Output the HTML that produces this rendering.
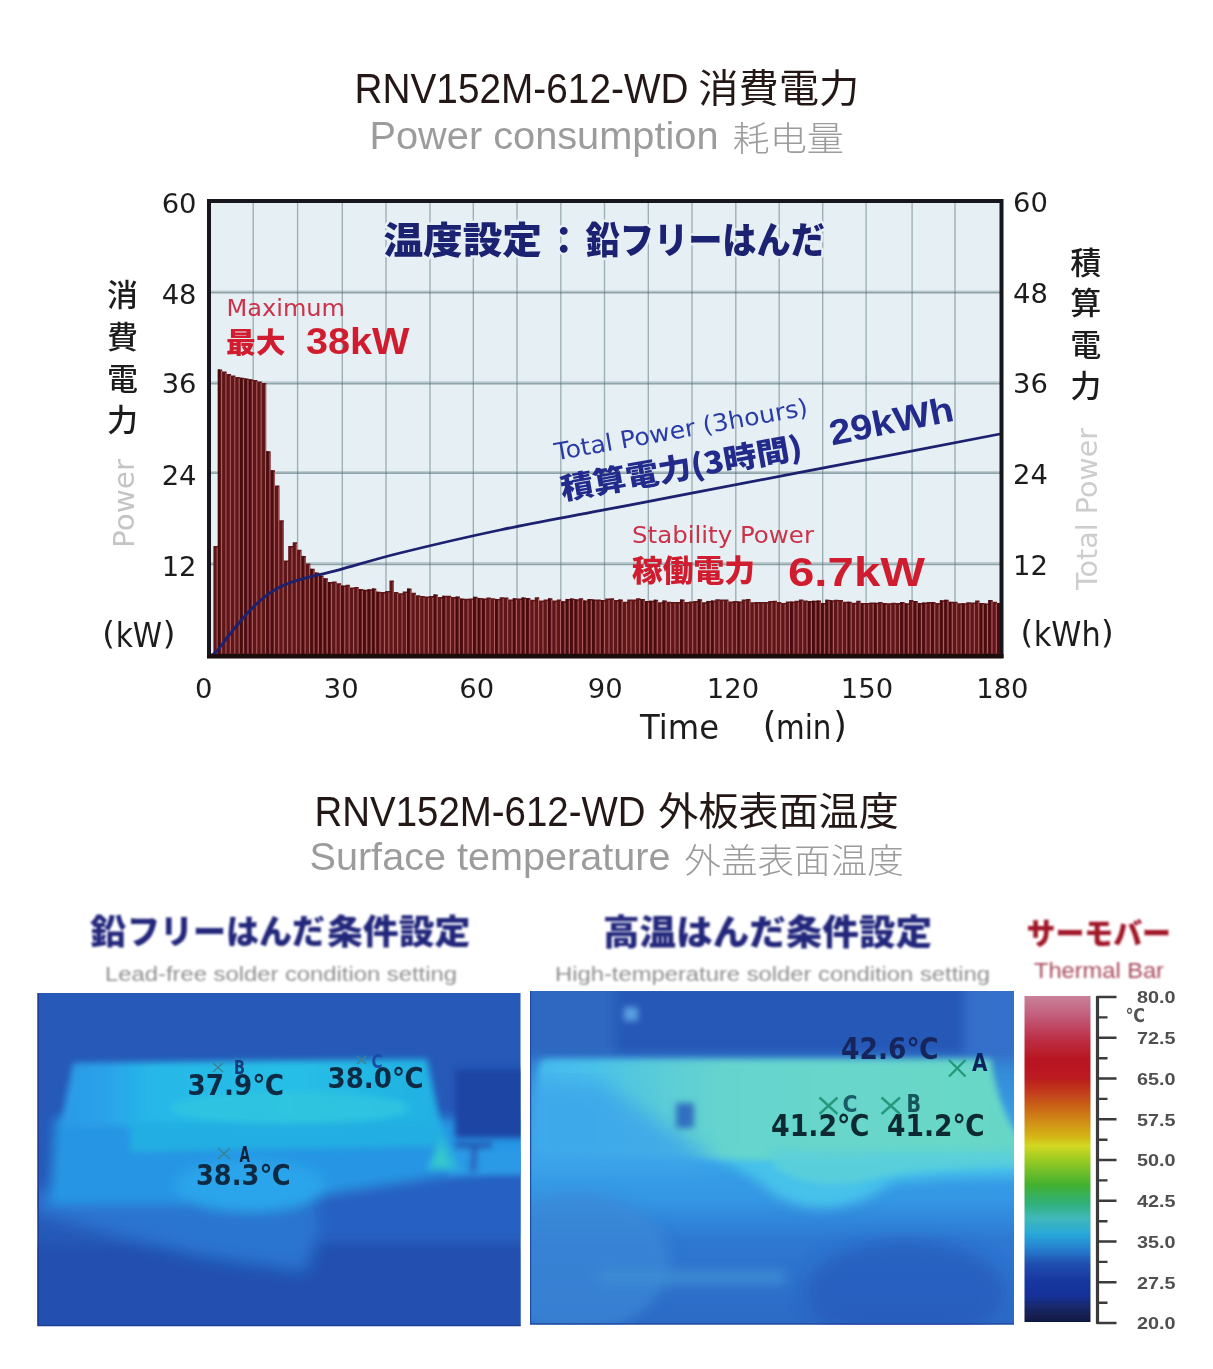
<!DOCTYPE html>
<html lang="ja"><head><meta charset="utf-8"><title>RNV152M-612-WD</title>
<style>html,body{margin:0;padding:0;background:#fff}body{width:1213px;height:1369px;overflow:hidden}svg{display:block}text{white-space:pre}</style></head><body>
<svg width="1213" height="1369" viewBox="0 0 1213 1369">
<defs>
<filter id="b05" x="-5%" y="-5%" width="110%" height="110%"><feGaussianBlur stdDeviation="0.5"/></filter>
<filter id="b07" x="-5%" y="-20%" width="110%" height="140%"><feGaussianBlur stdDeviation="0.7"/></filter>
<filter id="b1" x="-5%" y="-20%" width="110%" height="140%"><feGaussianBlur stdDeviation="1"/></filter>
<filter id="b3"><feGaussianBlur stdDeviation="3"/></filter>
<filter id="b6"><feGaussianBlur stdDeviation="6"/></filter>
<filter id="b10"><feGaussianBlur stdDeviation="10"/></filter>
<linearGradient id="cbar" x1="0" y1="0" x2="0" y2="1">
<stop offset="0" stop-color="#c88098"/><stop offset="0.05" stop-color="#c46482"/><stop offset="0.13" stop-color="#bd3048"/>
<stop offset="0.19" stop-color="#b81822"/><stop offset="0.25" stop-color="#ba1a20"/><stop offset="0.30" stop-color="#c4401c"/>
<stop offset="0.38" stop-color="#d08812"/><stop offset="0.43" stop-color="#d4b414"/><stop offset="0.46" stop-color="#d2d822"/>
<stop offset="0.51" stop-color="#92c824"/><stop offset="0.58" stop-color="#42b030"/><stop offset="0.635" stop-color="#30b078"/>
<stop offset="0.68" stop-color="#40b8b8"/><stop offset="0.73" stop-color="#28a8d8"/><stop offset="0.775" stop-color="#2880d0"/>
<stop offset="0.82" stop-color="#2050b0"/><stop offset="0.87" stop-color="#1838a0"/><stop offset="0.92" stop-color="#183098"/>
<stop offset="0.955" stop-color="#1a2868"/><stop offset="1" stop-color="#101840"/>
</linearGradient>
<linearGradient id="plat" x1="0" y1="0" x2="1" y2="0"><stop offset="0" stop-color="#44b8ee"/><stop offset="0.1" stop-color="#48c0ea"/><stop offset="0.25" stop-color="#5accd8"/><stop offset="0.38" stop-color="#66d4ce"/><stop offset="0.85" stop-color="#68d8c8"/><stop offset="1" stop-color="#66d6c6"/></linearGradient>
<linearGradient id="lplat" x1="0" y1="0" x2="1" y2="0"><stop offset="0" stop-color="#2a9ae6"/><stop offset="0.12" stop-color="#2aa2ea"/><stop offset="0.24" stop-color="#26b8e8"/><stop offset="0.6" stop-color="#28bee6"/><stop offset="1" stop-color="#20b0e2"/></linearGradient>
<linearGradient id="rbg" gradientUnits="userSpaceOnUse" x1="0" y1="985" x2="0" y2="1335"><stop offset="0" stop-color="#2f68c0"/><stop offset="0.44" stop-color="#3aa6ea"/><stop offset="0.615" stop-color="#3496e4"/><stop offset="0.73" stop-color="#2e78d2"/><stop offset="1" stop-color="#2c68c4"/></linearGradient>
<clipPath id="cl"><rect x="37.5" y="993" width="483" height="333"/></clipPath>
<clipPath id="cr"><rect x="530" y="991" width="484" height="333.5"/></clipPath>
<clipPath id="cp"><rect x="209" y="201" width="792.5" height="455"/></clipPath>
</defs>
<text font-family='"Liberation Sans", "Noto Sans CJK JP", sans-serif' fill="#231815" font-weight="400" ><tspan x="354.5" y="103.0" font-size="42.0" textLength="334.0" lengthAdjust="spacingAndGlyphs">RNV152M-612-WD</tspan><tspan x="690.0" y="103.0" font-size="20.0"> </tspan><tspan x="698.3" y="102.0" font-size="39.0" font-family='"Noto Sans CJK JP", sans-serif' textLength="161.0" lengthAdjust="spacingAndGlyphs">消費電力</tspan></text>
<text font-family='"Liberation Sans", "Noto Sans CJK SC", sans-serif' fill="#9c9c9c" font-weight="400" ><tspan x="369.5" y="148.5" font-size="38.8" textLength="349.0" lengthAdjust="spacingAndGlyphs">Power consumption</tspan><tspan x="722.0" y="148.5" font-size="20.0"> </tspan><tspan x="732.5" y="151.0" font-size="34.5" font-family='"Noto Sans CJK SC", sans-serif' font-weight="300" textLength="111.5" lengthAdjust="spacingAndGlyphs">耗电量</tspan></text>
<text font-family='"Liberation Sans", "Noto Sans CJK JP", sans-serif' fill="#231815" font-weight="400" ><tspan x="314.5" y="826.0" font-size="42.0" textLength="331.0" lengthAdjust="spacingAndGlyphs">RNV152M-612-WD</tspan><tspan x="650.0" y="826.0" font-size="20.0"> </tspan><tspan x="658.3" y="825.0" font-size="39.0" font-family='"Noto Sans CJK JP", sans-serif' textLength="240.5" lengthAdjust="spacingAndGlyphs">外板表面温度</tspan></text>
<text font-family='"Liberation Sans", "Noto Sans CJK SC", sans-serif' fill="#9c9c9c" font-weight="400" ><tspan x="309.5" y="870.0" font-size="38.8" textLength="361.0" lengthAdjust="spacingAndGlyphs">Surface temperature</tspan><tspan x="674.0" y="870.0" font-size="20.0"> </tspan><tspan x="684.3" y="872.5" font-size="34.5" font-family='"Noto Sans CJK SC", sans-serif' font-weight="300" textLength="219.5" lengthAdjust="spacingAndGlyphs">外盖表面温度</tspan></text>
<g filter="url(#b05)">
<rect x="209" y="201" width="792.5" height="455" fill="#e6f0f4"/>
<g stroke="#4a666c" stroke-width="1.4" opacity="0.46"><line x1="253.2" y1="201" x2="253.2" y2="656"/><line x1="297.6" y1="201" x2="297.6" y2="656"/><line x1="342.3" y1="201" x2="342.3" y2="656"/><line x1="386.0" y1="201" x2="386.0" y2="656"/><line x1="430.0" y1="201" x2="430.0" y2="656"/><line x1="473.3" y1="201" x2="473.3" y2="656"/><line x1="517.0" y1="201" x2="517.0" y2="656"/><line x1="560.8" y1="201" x2="560.8" y2="656"/><line x1="604.5" y1="201" x2="604.5" y2="656"/><line x1="648.3" y1="201" x2="648.3" y2="656"/><line x1="692.0" y1="201" x2="692.0" y2="656"/><line x1="735.8" y1="201" x2="735.8" y2="656"/><line x1="779.2" y1="201" x2="779.2" y2="656"/><line x1="822.7" y1="201" x2="822.7" y2="656"/><line x1="866.1" y1="201" x2="866.1" y2="656"/><line x1="912.1" y1="201" x2="912.1" y2="656"/><line x1="955.0" y1="201" x2="955.0" y2="656"/></g><g stroke="#4a666c" stroke-width="1.7" opacity="0.55"><line x1="209" y1="292.7" x2="1001.5" y2="292.7"/><line x1="209" y1="383.6" x2="1001.5" y2="383.6"/><line x1="209" y1="473.2" x2="1001.5" y2="473.2"/><line x1="209" y1="564.4" x2="1001.5" y2="564.4"/></g><g stroke="#7e979c" stroke-width="1.4" opacity="0.4"><line x1="209" y1="291.1" x2="1001.5" y2="291.1"/><line x1="209" y1="382.0" x2="1001.5" y2="382.0"/><line x1="209" y1="471.6" x2="1001.5" y2="471.6"/><line x1="209" y1="562.8" x2="1001.5" y2="562.8"/></g>
<g clip-path="url(#cp)">
<polygon points="213.4,656.0 213.4,546.0 217.8,546.0 217.8,369.4 222.2,369.4 222.2,371.6 226.6,371.6 226.6,373.9 231.0,373.9 231.0,375.4 235.4,375.4 235.4,376.9 239.8,376.9 239.8,377.7 244.2,377.7 244.2,378.4 248.6,378.4 248.6,379.2 253.0,379.2 253.0,380.0 257.4,380.0 257.4,381.5 261.8,381.5 261.8,383.0 266.2,383.0 266.2,451.2 270.6,451.2 270.6,470.2 275.0,470.2 275.0,485.4 279.4,485.4 279.4,520.3 283.8,520.3 283.8,560.5 288.2,560.5 288.2,546.0 292.7,546.0 292.7,542.2 297.1,542.2 297.1,549.8 301.5,549.8 301.5,555.9 305.9,555.9 305.9,563.5 310.3,563.5 310.3,568.8 314.7,568.8 314.7,572.6 319.1,572.6 319.1,575.6 323.5,575.6 323.5,578.3 327.9,578.3 327.9,582.0 332.3,582.0 332.3,581.5 336.7,581.5 336.7,583.3 341.1,583.3 341.1,585.5 345.5,585.5 345.5,584.8 349.9,584.8 349.9,587.5 354.3,587.5 354.3,586.9 358.7,586.9 358.7,589.1 363.1,589.1 363.1,589.8 367.5,589.8 367.5,589.2 371.9,589.2 371.9,588.4 376.3,588.4 376.3,591.7 380.7,591.7 380.7,591.9 385.1,591.9 385.1,590.9 389.5,590.9 389.5,580.4 393.9,580.4 393.9,592.1 398.3,592.1 398.3,593.2 402.7,593.2 402.7,591.5 407.1,591.5 407.1,588.6 411.5,588.6 411.5,592.7 415.9,592.7 415.9,595.2 420.3,595.2 420.3,596.1 424.7,596.1 424.7,596.5 429.1,596.5 429.1,596.1 433.5,596.1 433.5,594.4 437.9,594.4 437.9,597.1 442.3,597.1 442.3,595.8 446.8,595.8 446.8,595.8 451.2,595.8 451.2,597.0 455.6,597.0 455.6,596.6 460.0,596.6 460.0,598.6 464.4,598.6 464.4,598.8 468.8,598.8 468.8,598.4 473.2,598.4 473.2,596.8 477.6,596.8 477.6,597.9 482.0,597.9 482.0,598.5 486.4,598.5 486.4,597.6 490.8,597.6 490.8,598.2 495.2,598.2 495.2,598.9 499.6,598.9 499.6,597.2 504.0,597.2 504.0,597.6 508.4,597.6 508.4,599.5 512.8,599.5 512.8,598.3 517.2,598.3 517.2,598.6 521.6,598.6 521.6,597.4 526.0,597.4 526.0,598.0 530.4,598.0 530.4,599.8 534.8,599.8 534.8,597.2 539.2,597.2 539.2,600.6 543.6,600.6 543.6,599.5 548.0,599.5 548.0,598.3 552.4,598.3 552.4,600.6 556.8,600.6 556.8,599.4 561.2,599.4 561.2,601.2 565.6,601.2 565.6,598.9 570.0,598.9 570.0,598.5 574.4,598.5 574.4,599.3 578.8,599.3 578.8,598.2 583.2,598.2 583.2,600.4 587.6,600.4 587.6,599.0 592.0,599.0 592.0,599.4 596.4,599.4 596.4,599.5 600.8,599.5 600.8,600.1 605.2,600.1 605.2,598.6 609.7,598.6 609.7,598.3 614.1,598.3 614.1,600.1 618.5,600.1 618.5,599.4 622.9,599.4 622.9,601.8 627.3,601.8 627.3,599.4 631.7,599.4 631.7,599.6 636.1,599.6 636.1,598.3 640.5,598.3 640.5,599.0 644.9,599.0 644.9,601.1 649.3,601.1 649.3,600.7 653.7,600.7 653.7,599.7 658.1,599.7 658.1,602.2 662.5,602.2 662.5,600.5 666.9,600.5 666.9,601.7 671.3,601.7 671.3,601.9 675.7,601.9 675.7,602.1 680.1,602.1 680.1,599.5 684.5,599.5 684.5,601.9 688.9,601.9 688.9,601.5 693.3,601.5 693.3,601.0 697.7,601.0 697.7,599.2 702.1,599.2 702.1,602.2 706.5,602.2 706.5,600.9 710.9,600.9 710.9,600.5 715.3,600.5 715.3,599.3 719.7,599.3 719.7,599.5 724.1,599.5 724.1,599.4 728.5,599.4 728.5,601.6 732.9,601.6 732.9,601.1 737.3,601.1 737.3,601.4 741.7,601.4 741.7,599.4 746.1,599.4 746.1,599.1 750.5,599.1 750.5,602.2 754.9,602.2 754.9,602.1 759.3,602.1 759.3,601.9 763.8,601.9 763.8,602.0 768.2,602.0 768.2,601.0 772.6,601.0 772.6,600.7 777.0,600.7 777.0,601.9 781.4,601.9 781.4,602.9 785.8,602.9 785.8,601.4 790.2,601.4 790.2,601.6 794.6,601.6 794.6,600.8 799.0,600.8 799.0,599.4 803.4,599.4 803.4,600.4 807.8,600.4 807.8,601.1 812.2,601.1 812.2,600.7 816.6,600.7 816.6,600.5 821.0,600.5 821.0,602.9 825.4,602.9 825.4,599.7 829.8,599.7 829.8,600.2 834.2,600.2 834.2,599.8 838.6,599.8 838.6,600.1 843.0,600.1 843.0,601.7 847.4,601.7 847.4,601.7 851.8,601.7 851.8,602.8 856.2,602.8 856.2,600.8 860.6,600.8 860.6,603.0 865.0,603.0 865.0,603.0 869.4,603.0 869.4,602.5 873.8,602.5 873.8,602.7 878.2,602.7 878.2,602.0 882.6,602.0 882.6,603.1 887.0,603.1 887.0,603.3 891.4,603.3 891.4,602.8 895.8,602.8 895.8,603.0 900.2,603.0 900.2,602.0 904.6,602.0 904.6,603.3 909.0,603.3 909.0,600.1 913.4,600.1 913.4,601.1 917.8,601.1 917.8,602.9 922.2,602.9 922.2,602.5 926.7,602.5 926.7,602.1 931.1,602.1 931.1,602.1 935.5,602.1 935.5,603.0 939.9,603.0 939.9,600.3 944.3,600.3 944.3,599.8 948.7,599.8 948.7,601.8 953.1,601.8 953.1,601.7 957.5,601.7 957.5,603.2 961.9,603.2 961.9,603.2 966.3,603.2 966.3,602.3 970.7,602.3 970.7,602.6 975.1,602.6 975.1,600.5 979.5,600.5 979.5,603.0 983.9,603.0 983.9,603.5 988.3,603.5 988.3,600.0 992.7,600.0 992.7,601.7 997.1,601.7 997.1,603.1 1001.5,603.1 1001.5,656.0" fill="#5f1319"/>
<g fill="#460a0d"><rect x="217.8" y="369.4" width="2.2" height="286.6"/><rect x="239.8" y="377.7" width="2.2" height="278.3"/><rect x="244.2" y="378.4" width="2.2" height="277.6"/><rect x="248.6" y="379.2" width="2.2" height="276.8"/><rect x="266.2" y="451.2" width="2.2" height="204.8"/><rect x="270.6" y="470.2" width="2.2" height="185.8"/><rect x="301.5" y="555.9" width="2.2" height="100.1"/><rect x="310.3" y="568.8" width="2.2" height="87.2"/><rect x="314.7" y="572.6" width="2.2" height="83.4"/><rect x="319.1" y="575.6" width="2.2" height="80.4"/><rect x="323.5" y="578.3" width="2.2" height="77.7"/><rect x="327.9" y="582.0" width="2.2" height="74.0"/><rect x="341.1" y="585.5" width="2.2" height="70.5"/><rect x="358.7" y="589.1" width="2.2" height="66.9"/><rect x="363.1" y="589.8" width="2.2" height="66.2"/><rect x="367.5" y="589.2" width="2.2" height="66.8"/><rect x="371.9" y="588.4" width="2.2" height="67.6"/><rect x="376.3" y="591.7" width="2.2" height="64.3"/><rect x="407.1" y="588.6" width="2.2" height="67.4"/><rect x="433.5" y="594.4" width="2.2" height="61.6"/><rect x="442.3" y="595.8" width="2.2" height="60.2"/><rect x="455.6" y="596.6" width="2.2" height="59.4"/><rect x="460.0" y="598.6" width="2.2" height="57.4"/><rect x="473.2" y="596.8" width="2.2" height="59.2"/><rect x="477.6" y="597.9" width="2.2" height="58.1"/><rect x="482.0" y="598.5" width="2.2" height="57.5"/><rect x="495.2" y="598.9" width="2.2" height="57.1"/><rect x="512.8" y="598.3" width="2.2" height="57.7"/><rect x="521.6" y="597.4" width="2.2" height="58.6"/><rect x="526.0" y="598.0" width="2.2" height="58.0"/><rect x="548.0" y="598.3" width="2.2" height="57.7"/><rect x="561.2" y="601.2" width="2.2" height="54.8"/><rect x="565.6" y="598.9" width="2.2" height="57.1"/><rect x="570.0" y="598.5" width="2.2" height="57.5"/><rect x="574.4" y="599.3" width="2.2" height="56.7"/><rect x="583.2" y="600.4" width="2.2" height="55.6"/><rect x="587.6" y="599.0" width="2.2" height="57.0"/><rect x="592.0" y="599.4" width="2.2" height="56.6"/><rect x="600.8" y="600.1" width="2.2" height="55.9"/><rect x="618.5" y="599.4" width="2.2" height="56.6"/><rect x="640.5" y="599.0" width="2.2" height="57.0"/><rect x="644.9" y="601.1" width="2.2" height="54.9"/><rect x="649.3" y="600.7" width="2.2" height="55.3"/><rect x="653.7" y="599.7" width="2.2" height="56.3"/><rect x="662.5" y="600.5" width="2.2" height="55.5"/><rect x="680.1" y="599.5" width="2.2" height="56.5"/><rect x="697.7" y="599.2" width="2.2" height="56.8"/><rect x="706.5" y="600.9" width="2.2" height="55.1"/><rect x="710.9" y="600.5" width="2.2" height="55.5"/><rect x="737.3" y="601.4" width="2.2" height="54.6"/><rect x="790.2" y="601.6" width="2.2" height="54.4"/><rect x="807.8" y="601.1" width="2.2" height="54.9"/><rect x="812.2" y="600.7" width="2.2" height="55.3"/><rect x="816.6" y="600.5" width="2.2" height="55.5"/><rect x="821.0" y="602.9" width="2.2" height="53.1"/><rect x="825.4" y="599.7" width="2.2" height="56.3"/><rect x="829.8" y="600.2" width="2.2" height="55.8"/><rect x="847.4" y="601.7" width="2.2" height="54.3"/><rect x="860.6" y="603.0" width="2.2" height="53.0"/><rect x="873.8" y="602.7" width="2.2" height="53.3"/><rect x="882.6" y="603.1" width="2.2" height="52.9"/><rect x="900.2" y="602.0" width="2.2" height="54.0"/><rect x="904.6" y="603.3" width="2.2" height="52.7"/><rect x="913.4" y="601.1" width="2.2" height="54.9"/><rect x="917.8" y="602.9" width="2.2" height="53.1"/><rect x="922.2" y="602.5" width="2.2" height="53.5"/><rect x="931.1" y="602.1" width="2.2" height="53.9"/><rect x="939.9" y="600.3" width="2.2" height="55.7"/><rect x="944.3" y="599.8" width="2.2" height="56.2"/><rect x="948.7" y="601.8" width="2.2" height="54.2"/><rect x="961.9" y="603.2" width="2.2" height="52.8"/><rect x="979.5" y="603.0" width="2.2" height="53.0"/><rect x="983.9" y="603.5" width="2.2" height="52.5"/><rect x="988.3" y="600.0" width="2.2" height="56.0"/><rect x="997.1" y="603.1" width="2.2" height="52.9"/></g>
<g fill="#aa5c60"><rect x="216.6" y="547.5" width="1.1" height="106.0"/><rect x="221.0" y="370.9" width="1.1" height="282.6"/><rect x="225.4" y="373.1" width="1.1" height="280.4"/><rect x="229.8" y="375.4" width="1.1" height="278.1"/><rect x="234.2" y="376.9" width="1.1" height="276.6"/><rect x="238.6" y="378.4" width="1.1" height="275.1"/><rect x="243.0" y="379.2" width="1.1" height="274.3"/><rect x="247.4" y="379.9" width="1.1" height="273.6"/><rect x="251.8" y="380.7" width="1.1" height="272.8"/><rect x="256.2" y="381.5" width="1.1" height="272.0"/><rect x="260.6" y="383.0" width="1.1" height="270.5"/><rect x="265.0" y="384.5" width="1.1" height="269.0"/><rect x="269.4" y="452.8" width="1.1" height="200.8"/><rect x="273.8" y="471.7" width="1.1" height="181.8"/><rect x="278.2" y="486.9" width="1.1" height="166.6"/><rect x="282.6" y="521.8" width="1.1" height="131.7"/><rect x="287.0" y="562.0" width="1.1" height="91.5"/><rect x="291.4" y="547.5" width="1.1" height="106.0"/><rect x="295.8" y="543.8" width="1.1" height="109.8"/><rect x="300.2" y="551.3" width="1.1" height="102.2"/><rect x="304.6" y="557.4" width="1.1" height="96.1"/><rect x="309.0" y="565.0" width="1.1" height="88.5"/><rect x="313.4" y="570.3" width="1.1" height="83.2"/><rect x="317.8" y="574.1" width="1.1" height="79.4"/><rect x="322.2" y="577.1" width="1.1" height="76.4"/><rect x="326.6" y="579.8" width="1.1" height="73.7"/><rect x="331.0" y="583.5" width="1.1" height="70.0"/><rect x="335.4" y="583.0" width="1.1" height="70.5"/><rect x="339.8" y="584.8" width="1.1" height="68.7"/><rect x="344.2" y="587.0" width="1.1" height="66.5"/><rect x="348.6" y="586.3" width="1.1" height="67.2"/><rect x="353.0" y="589.0" width="1.1" height="64.5"/><rect x="357.4" y="588.4" width="1.1" height="65.1"/><rect x="361.8" y="590.6" width="1.1" height="62.9"/><rect x="366.2" y="591.3" width="1.1" height="62.2"/><rect x="370.7" y="590.7" width="1.1" height="62.8"/><rect x="375.1" y="589.9" width="1.1" height="63.6"/><rect x="379.5" y="593.2" width="1.1" height="60.3"/><rect x="383.9" y="593.4" width="1.1" height="60.1"/><rect x="388.3" y="592.4" width="1.1" height="61.1"/><rect x="392.7" y="581.9" width="1.1" height="71.6"/><rect x="397.1" y="593.6" width="1.1" height="59.9"/><rect x="401.5" y="594.7" width="1.1" height="58.8"/><rect x="405.9" y="593.0" width="1.1" height="60.5"/><rect x="410.3" y="590.1" width="1.1" height="63.4"/><rect x="414.7" y="594.2" width="1.1" height="59.3"/><rect x="419.1" y="596.7" width="1.1" height="56.8"/><rect x="423.5" y="597.6" width="1.1" height="55.9"/><rect x="427.9" y="598.0" width="1.1" height="55.5"/><rect x="432.3" y="597.6" width="1.1" height="55.9"/><rect x="436.7" y="595.9" width="1.1" height="57.6"/><rect x="441.1" y="598.6" width="1.1" height="54.9"/><rect x="445.5" y="597.3" width="1.1" height="56.2"/><rect x="449.9" y="597.3" width="1.1" height="56.2"/><rect x="454.3" y="598.5" width="1.1" height="55.0"/><rect x="458.7" y="598.1" width="1.1" height="55.4"/><rect x="463.1" y="600.1" width="1.1" height="53.4"/><rect x="467.5" y="600.3" width="1.1" height="53.2"/><rect x="471.9" y="599.9" width="1.1" height="53.6"/><rect x="476.3" y="598.3" width="1.1" height="55.2"/><rect x="480.7" y="599.4" width="1.1" height="54.1"/><rect x="485.1" y="600.0" width="1.1" height="53.5"/><rect x="489.5" y="599.1" width="1.1" height="54.4"/><rect x="493.9" y="599.7" width="1.1" height="53.8"/><rect x="498.3" y="600.4" width="1.1" height="53.1"/><rect x="502.7" y="598.7" width="1.1" height="54.8"/><rect x="507.1" y="599.1" width="1.1" height="54.4"/><rect x="511.5" y="601.0" width="1.1" height="52.5"/><rect x="515.9" y="599.8" width="1.1" height="53.7"/><rect x="520.3" y="600.1" width="1.1" height="53.4"/><rect x="524.8" y="598.9" width="1.1" height="54.6"/><rect x="529.2" y="599.5" width="1.1" height="54.0"/><rect x="533.6" y="601.3" width="1.1" height="52.2"/><rect x="538.0" y="598.7" width="1.1" height="54.8"/><rect x="542.4" y="602.1" width="1.1" height="51.4"/><rect x="546.8" y="601.0" width="1.1" height="52.5"/><rect x="551.2" y="599.8" width="1.1" height="53.7"/><rect x="555.6" y="602.1" width="1.1" height="51.4"/><rect x="560.0" y="600.9" width="1.1" height="52.6"/><rect x="564.4" y="602.7" width="1.1" height="50.8"/><rect x="568.8" y="600.4" width="1.1" height="53.1"/><rect x="573.2" y="600.0" width="1.1" height="53.5"/><rect x="577.6" y="600.8" width="1.1" height="52.7"/><rect x="582.0" y="599.7" width="1.1" height="53.8"/><rect x="586.4" y="601.9" width="1.1" height="51.6"/><rect x="590.8" y="600.5" width="1.1" height="53.0"/><rect x="595.2" y="600.9" width="1.1" height="52.6"/><rect x="599.6" y="601.0" width="1.1" height="52.5"/><rect x="604.0" y="601.6" width="1.1" height="51.9"/><rect x="608.4" y="600.1" width="1.1" height="53.4"/><rect x="612.8" y="599.8" width="1.1" height="53.7"/><rect x="617.2" y="601.6" width="1.1" height="51.9"/><rect x="621.6" y="600.9" width="1.1" height="52.6"/><rect x="626.0" y="603.3" width="1.1" height="50.2"/><rect x="630.4" y="600.9" width="1.1" height="52.6"/><rect x="634.8" y="601.1" width="1.1" height="52.4"/><rect x="639.2" y="599.8" width="1.1" height="53.7"/><rect x="643.6" y="600.5" width="1.1" height="53.0"/><rect x="648.0" y="602.6" width="1.1" height="50.9"/><rect x="652.4" y="602.2" width="1.1" height="51.3"/><rect x="656.8" y="601.2" width="1.1" height="52.3"/><rect x="661.2" y="603.7" width="1.1" height="49.8"/><rect x="665.6" y="602.0" width="1.1" height="51.5"/><rect x="670.0" y="603.2" width="1.1" height="50.3"/><rect x="674.4" y="603.4" width="1.1" height="50.1"/><rect x="678.8" y="603.6" width="1.1" height="49.9"/><rect x="683.2" y="601.0" width="1.1" height="52.5"/><rect x="687.7" y="603.4" width="1.1" height="50.1"/><rect x="692.1" y="603.0" width="1.1" height="50.5"/><rect x="696.5" y="602.5" width="1.1" height="51.0"/><rect x="700.9" y="600.7" width="1.1" height="52.8"/><rect x="705.3" y="603.7" width="1.1" height="49.8"/><rect x="709.7" y="602.4" width="1.1" height="51.1"/><rect x="714.1" y="602.0" width="1.1" height="51.5"/><rect x="718.5" y="600.8" width="1.1" height="52.7"/><rect x="722.9" y="601.0" width="1.1" height="52.5"/><rect x="727.3" y="600.9" width="1.1" height="52.6"/><rect x="731.7" y="603.1" width="1.1" height="50.4"/><rect x="736.1" y="602.6" width="1.1" height="50.9"/><rect x="740.5" y="602.9" width="1.1" height="50.6"/><rect x="744.9" y="600.9" width="1.1" height="52.6"/><rect x="749.3" y="600.6" width="1.1" height="52.9"/><rect x="753.7" y="603.7" width="1.1" height="49.8"/><rect x="758.1" y="603.6" width="1.1" height="49.9"/><rect x="762.5" y="603.4" width="1.1" height="50.1"/><rect x="766.9" y="603.5" width="1.1" height="50.0"/><rect x="771.3" y="602.5" width="1.1" height="51.0"/><rect x="775.7" y="602.2" width="1.1" height="51.3"/><rect x="780.1" y="603.4" width="1.1" height="50.1"/><rect x="784.5" y="604.4" width="1.1" height="49.1"/><rect x="788.9" y="602.9" width="1.1" height="50.6"/><rect x="793.3" y="603.1" width="1.1" height="50.4"/><rect x="797.7" y="602.3" width="1.1" height="51.2"/><rect x="802.1" y="600.9" width="1.1" height="52.6"/><rect x="806.5" y="601.9" width="1.1" height="51.6"/><rect x="810.9" y="602.6" width="1.1" height="50.9"/><rect x="815.3" y="602.2" width="1.1" height="51.3"/><rect x="819.7" y="602.0" width="1.1" height="51.5"/><rect x="824.1" y="604.4" width="1.1" height="49.1"/><rect x="828.5" y="601.2" width="1.1" height="52.3"/><rect x="832.9" y="601.7" width="1.1" height="51.8"/><rect x="837.3" y="601.3" width="1.1" height="52.2"/><rect x="841.8" y="601.6" width="1.1" height="51.9"/><rect x="846.2" y="603.2" width="1.1" height="50.3"/><rect x="850.6" y="603.2" width="1.1" height="50.3"/><rect x="855.0" y="604.3" width="1.1" height="49.2"/><rect x="859.4" y="602.3" width="1.1" height="51.2"/><rect x="863.8" y="604.5" width="1.1" height="49.0"/><rect x="868.2" y="604.5" width="1.1" height="49.0"/><rect x="872.6" y="604.0" width="1.1" height="49.5"/><rect x="877.0" y="604.2" width="1.1" height="49.3"/><rect x="881.4" y="603.5" width="1.1" height="50.0"/><rect x="885.8" y="604.6" width="1.1" height="48.9"/><rect x="890.2" y="604.8" width="1.1" height="48.7"/><rect x="894.6" y="604.3" width="1.1" height="49.2"/><rect x="899.0" y="604.5" width="1.1" height="49.0"/><rect x="903.4" y="603.5" width="1.1" height="50.0"/><rect x="907.8" y="604.8" width="1.1" height="48.7"/><rect x="912.2" y="601.6" width="1.1" height="51.9"/><rect x="916.6" y="602.6" width="1.1" height="50.9"/><rect x="921.0" y="604.4" width="1.1" height="49.1"/><rect x="925.4" y="604.0" width="1.1" height="49.5"/><rect x="929.8" y="603.6" width="1.1" height="49.9"/><rect x="934.2" y="603.6" width="1.1" height="49.9"/><rect x="938.6" y="604.5" width="1.1" height="49.0"/><rect x="943.0" y="601.8" width="1.1" height="51.7"/><rect x="947.4" y="601.3" width="1.1" height="52.2"/><rect x="951.8" y="603.3" width="1.1" height="50.2"/><rect x="956.2" y="603.2" width="1.1" height="50.3"/><rect x="960.6" y="604.7" width="1.1" height="48.8"/><rect x="965.0" y="604.7" width="1.1" height="48.8"/><rect x="969.4" y="603.8" width="1.1" height="49.7"/><rect x="973.8" y="604.1" width="1.1" height="49.4"/><rect x="978.2" y="602.0" width="1.1" height="51.5"/><rect x="982.6" y="604.5" width="1.1" height="49.0"/><rect x="987.0" y="605.0" width="1.1" height="48.5"/><rect x="991.4" y="601.5" width="1.1" height="52.0"/><rect x="995.8" y="603.2" width="1.1" height="50.3"/><rect x="1000.2" y="604.6" width="1.1" height="48.9"/></g>
<path d="M209.0,656.0 C210.2,655.3 212.5,655.7 216.0,652.0 C219.5,648.3 224.9,640.3 230.0,634.0 C235.1,627.7 241.4,619.8 246.7,614.0 C252.0,608.2 256.9,603.2 262.0,599.0 C267.1,594.8 272.0,591.3 277.0,588.5 C282.0,585.7 286.9,583.8 292.0,582.0 C297.1,580.2 299.5,579.6 307.5,577.5 C315.5,575.4 324.6,573.7 340.0,569.6 C355.4,565.5 373.3,559.6 400.0,553.0 C426.7,546.4 466.7,537.0 500.0,530.0 C533.3,523.0 570.0,516.5 600.0,510.7 C630.0,504.9 646.7,501.8 680.0,495.4 C713.3,489.0 746.7,482.6 800.0,472.4 C853.3,462.2 966.7,440.4 1000.0,434.0" fill="none" stroke="#1c2070" stroke-width="2.8" stroke-linejoin="round"/>
</g>
<rect x="209" y="201" width="792.5" height="455" fill="none" stroke="#15151a" stroke-width="4"/>
<rect x="207" y="654" width="796.5" height="4.5" fill="#1c0808"/>
<text font-family='"Noto Sans CJK JP", sans-serif' fill="#1f2172" font-weight="900" stroke="#e6f0f4" stroke-width="5" stroke-linejoin="round" paint-order="stroke"><tspan x="383.5" y="254.0" font-size="37.0" textLength="158.5" lengthAdjust="spacingAndGlyphs">温度設定</tspan><tspan x="563.7" y="254.0" font-size="37.0" text-anchor="middle">：</tspan><tspan x="585.5" y="254.0" font-size="37.0" textLength="239.5" lengthAdjust="spacingAndGlyphs">鉛フリーはんだ</tspan></text>
<text x="226.5" y="316.0" font-size="23.5" font-family='"DejaVu Sans", "Noto Sans CJK JP", sans-serif' fill="#cc3048" font-weight="400" text-anchor="start" textLength="118.5" lengthAdjust="spacingAndGlyphs" >Maximum</text>
<text font-family='"Liberation Sans", "Noto Sans CJK JP", sans-serif' fill="#d01f2e" font-weight="700" ><tspan x="226.0" y="353.0" font-size="28.5" font-family='"Noto Sans CJK JP", sans-serif' font-weight="900" textLength="59.5" lengthAdjust="spacingAndGlyphs">最大</tspan><tspan x="292.0" y="353.0" font-size="20.0"> </tspan><tspan x="306.0" y="353.5" font-size="37.0" textLength="103.5" lengthAdjust="spacingAndGlyphs">38kW</tspan></text>
<g transform="rotate(-10.2 556 460.5)">
<text x="556.0" y="460.5" font-size="24.0" font-family='"DejaVu Sans", "Noto Sans CJK JP", sans-serif' fill="#2a3aa8" font-weight="400" text-anchor="start" textLength="257.0" lengthAdjust="spacingAndGlyphs" >Total Power (3hours)</text>
</g>
<g transform="rotate(-10 562.5 500)">
<text x="562.5" y="500.0" font-size="30.0" font-family='"Noto Sans CJK JP", sans-serif' fill="#222c8c" font-weight="900" text-anchor="start" textLength="245.0" lengthAdjust="spacingAndGlyphs" >積算電力(3時間)</text>
</g>
<g transform="rotate(-11.5 832 445.5)">
<text x="832.0" y="445.5" font-size="35.5" font-family='"Liberation Sans", "Noto Sans CJK JP", sans-serif' fill="#222c8c" font-weight="700" text-anchor="start" textLength="126.0" lengthAdjust="spacingAndGlyphs" >29kWh</text>
</g>
<text x="632.0" y="543.0" font-size="23.5" font-family='"DejaVu Sans", "Noto Sans CJK JP", sans-serif' fill="#cc3048" font-weight="400" text-anchor="start" textLength="182.0" lengthAdjust="spacingAndGlyphs" >Stability Power</text>
<text font-family='"Liberation Sans", "Noto Sans CJK JP", sans-serif' fill="#d01f2e" font-weight="700" ><tspan x="632.0" y="581.0" font-size="29.5" font-family='"Noto Sans CJK JP", sans-serif' font-weight="900" textLength="123.0" lengthAdjust="spacingAndGlyphs">稼働電力</tspan><tspan x="765.0" y="581.0" font-size="20.0"> </tspan><tspan x="788.0" y="586.0" font-size="40.0" textLength="137.0" lengthAdjust="spacingAndGlyphs">6.7kW</tspan></text>
</g>
<g filter="url(#b05)">
<text x="196.5" y="212.8" font-size="27.4" font-family='"DejaVu Sans", "Noto Sans CJK JP", sans-serif' fill="#1e1e1e" font-weight="400" text-anchor="end" >60</text>
<text x="196.5" y="304.0" font-size="27.4" font-family='"DejaVu Sans", "Noto Sans CJK JP", sans-serif' fill="#1e1e1e" font-weight="400" text-anchor="end" >48</text>
<text x="196.5" y="393.3" font-size="27.4" font-family='"DejaVu Sans", "Noto Sans CJK JP", sans-serif' fill="#1e1e1e" font-weight="400" text-anchor="end" >36</text>
<text x="196.5" y="484.5" font-size="27.4" font-family='"DejaVu Sans", "Noto Sans CJK JP", sans-serif' fill="#1e1e1e" font-weight="400" text-anchor="end" >24</text>
<text x="196.5" y="575.7" font-size="27.4" font-family='"DejaVu Sans", "Noto Sans CJK JP", sans-serif' fill="#1e1e1e" font-weight="400" text-anchor="end" >12</text>
<text x="1013.0" y="212.0" font-size="27.4" font-family='"DejaVu Sans", "Noto Sans CJK JP", sans-serif' fill="#1e1e1e" font-weight="400" text-anchor="start" >60</text>
<text x="1013.0" y="303.0" font-size="27.4" font-family='"DejaVu Sans", "Noto Sans CJK JP", sans-serif' fill="#1e1e1e" font-weight="400" text-anchor="start" >48</text>
<text x="1013.0" y="392.5" font-size="27.4" font-family='"DejaVu Sans", "Noto Sans CJK JP", sans-serif' fill="#1e1e1e" font-weight="400" text-anchor="start" >36</text>
<text x="1013.0" y="483.6" font-size="27.4" font-family='"DejaVu Sans", "Noto Sans CJK JP", sans-serif' fill="#1e1e1e" font-weight="400" text-anchor="start" >24</text>
<text x="1013.0" y="575.0" font-size="27.4" font-family='"DejaVu Sans", "Noto Sans CJK JP", sans-serif' fill="#1e1e1e" font-weight="400" text-anchor="start" >12</text>
<text x="203.8" y="697.6" font-size="27.4" font-family='"DejaVu Sans", "Noto Sans CJK JP", sans-serif' fill="#1e1e1e" font-weight="400" text-anchor="middle" >0</text>
<text x="341.3" y="697.6" font-size="27.4" font-family='"DejaVu Sans", "Noto Sans CJK JP", sans-serif' fill="#1e1e1e" font-weight="400" text-anchor="middle" >30</text>
<text x="476.7" y="697.6" font-size="27.4" font-family='"DejaVu Sans", "Noto Sans CJK JP", sans-serif' fill="#1e1e1e" font-weight="400" text-anchor="middle" >60</text>
<text x="605.2" y="697.6" font-size="27.4" font-family='"DejaVu Sans", "Noto Sans CJK JP", sans-serif' fill="#1e1e1e" font-weight="400" text-anchor="middle" >90</text>
<text x="733.0" y="697.6" font-size="27.4" font-family='"DejaVu Sans", "Noto Sans CJK JP", sans-serif' fill="#1e1e1e" font-weight="400" text-anchor="middle" >120</text>
<text x="867.0" y="697.6" font-size="27.4" font-family='"DejaVu Sans", "Noto Sans CJK JP", sans-serif' fill="#1e1e1e" font-weight="400" text-anchor="middle" >150</text>
<text x="1002.4" y="697.6" font-size="27.4" font-family='"DejaVu Sans", "Noto Sans CJK JP", sans-serif' fill="#1e1e1e" font-weight="400" text-anchor="middle" >180</text>
<text font-family='"DejaVu Sans", "Noto Sans CJK JP", sans-serif' fill="#1e1e1e" font-weight="400" ><tspan x="640.0" y="738.5" font-size="34.0" textLength="79.0" lengthAdjust="spacingAndGlyphs">Time</tspan><tspan x="735.0" y="738.5" font-size="20.0"> </tspan><tspan x="762.8" y="737.2" font-size="35.0">(</tspan><tspan x="776.0" y="738.5" font-size="33.0" textLength="55.5" lengthAdjust="spacingAndGlyphs">min</tspan><tspan x="833.2" y="737.2" font-size="35.0">)</tspan></text>
<text x="122.5 122.5 122.5 122.5" y="305.5 347.5 389.5 430.5" font-size="31.0" font-family='"Noto Sans CJK JP", sans-serif' fill="#1e1e1e" font-weight="500" text-anchor="middle">消費電力</text>
<text x="1085.7 1085.7 1085.7 1085.7" y="273.5 313.5 355.5 397.0" font-size="31.0" font-family='"Noto Sans CJK JP", sans-serif' fill="#1e1e1e" font-weight="500" text-anchor="middle">積算電力</text>
<g transform="rotate(-90 133.5 548)"><text x="133.5" y="548.5" font-size="28.0" font-family='"DejaVu Sans", "Noto Sans CJK JP", sans-serif' fill="#c4c4c4" font-weight="400" text-anchor="start" textLength="89.0" lengthAdjust="spacingAndGlyphs" >Power</text></g>
<g transform="rotate(-90 1096.5 590)"><text x="1096.5" y="590.0" font-size="28.0" font-family='"DejaVu Sans", "Noto Sans CJK JP", sans-serif' fill="#cdcdcd" font-weight="400" text-anchor="start" textLength="162.0" lengthAdjust="spacingAndGlyphs" >Total Power</text></g>
<text font-family='"DejaVu Sans", "Noto Sans CJK JP", sans-serif' fill="#1e1e1e" font-weight="400" ><tspan x="102.2" y="643.5" font-size="32.5">(</tspan><tspan x="115.7" y="646.8" font-size="33.0" textLength="46.5" lengthAdjust="spacingAndGlyphs">kW</tspan><tspan x="162.8" y="643.5" font-size="32.5">)</tspan></text>
<text font-family='"DejaVu Sans", "Noto Sans CJK JP", sans-serif' fill="#1e1e1e" font-weight="400" ><tspan x="1020.6" y="642.5" font-size="32.5">(</tspan><tspan x="1033.7" y="645.5" font-size="33.0" textLength="67.0" lengthAdjust="spacingAndGlyphs">kWh</tspan><tspan x="1101.0" y="642.5" font-size="32.5">)</tspan></text>
</g>
<g filter="url(#b1)">
<text font-family='"Noto Sans CJK JP", sans-serif' fill="#23267c" font-weight="900" ><tspan x="90.0" y="943.5" font-size="34.0" textLength="36.0" lengthAdjust="spacingAndGlyphs">鉛</tspan><tspan x="127.0" y="943.5" font-size="34.0" textLength="198.0" lengthAdjust="spacingAndGlyphs">フリーはんだ</tspan><tspan x="327.0" y="943.5" font-size="34.0" textLength="143.5" lengthAdjust="spacingAndGlyphs">条件設定</tspan></text>
<text x="603.0" y="944.5" font-size="35.0" font-family='"Noto Sans CJK JP", sans-serif' fill="#23267c" font-weight="900" text-anchor="start" textLength="329.0" lengthAdjust="spacingAndGlyphs" >高温はんだ条件設定</text>
<text x="1026.5" y="944.0" font-size="29.5" font-family='"Noto Sans CJK JP", sans-serif' fill="#a01426" font-weight="900" text-anchor="start" textLength="144.5" lengthAdjust="spacingAndGlyphs" >サーモバー</text>
</g>
<g filter="url(#b1)">
<text x="105.0" y="980.5" font-size="20.0" font-family='"Liberation Sans", "Noto Sans CJK JP", sans-serif' fill="#909090" font-weight="400" text-anchor="start" textLength="352.0" lengthAdjust="spacingAndGlyphs" >Lead-free solder condition setting</text>
<text x="555.0" y="980.5" font-size="19.5" font-family='"Liberation Sans", "Noto Sans CJK JP", sans-serif' fill="#909090" font-weight="400" text-anchor="start" textLength="435.0" lengthAdjust="spacingAndGlyphs" >High-temperature solder condition setting</text>
<text x="1034.0" y="978.0" font-size="22.0" font-family='"Liberation Sans", "Noto Sans CJK JP", sans-serif' fill="#a84a5c" font-weight="400" text-anchor="start" textLength="130.0" lengthAdjust="spacingAndGlyphs" >Thermal Bar</text>
</g>
<g clip-path="url(#cl)">
<rect x="30" y="985" width="500" height="350" fill="#2659b8"/>
<g filter="url(#b6)">
<rect x="20" y="1245" width="520" height="100" fill="#2150b0"/>
<polygon points="290,1200 540,1160 540,1240 300,1240" fill="#2560c2"/>
<polygon points="30,1190 312,1190 320,1225 306,1272 200,1256 30,1212" fill="#2a74d0" filter="url(#b6)"/>
<polygon points="55,1118 540,1118 540,1160 292,1199 300,1204 50,1204" fill="#2896e4"/>
<ellipse cx="250" cy="1186" rx="75" ry="26" fill="#2aa4ea"/>
</g>
<g filter="url(#b3)">
<polygon points="73,1063 427,1059 441,1125 60,1127" fill="url(#lplat)"/>
<polygon points="130,1122 441,1122 446,1146 130,1152" fill="#24aee2"/>
<ellipse cx="290" cy="1108" rx="120" ry="16" fill="#32c8de" opacity="0.7"/>
<rect x="455" y="1069" width="75" height="69" fill="#1f44a4"/>
<rect x="447" y="1150" width="90" height="25" fill="#2a9ae6"/>
<polygon points="442,1131 460,1170 426,1170" fill="#2cb6da"/>
<polygon points="441,1144 450,1167 432,1167" fill="#36c8cc"/>
<path d="M455,1145.5 L492,1145.5" stroke="#2248a8" stroke-width="5" fill="none"/>
<path d="M474.5,1146 L473,1172" stroke="#2a58b8" stroke-width="6" fill="none"/>
</g>
</g>
<g filter="url(#b07)">
<text x="187.5" y="1095.3" font-size="28.5" font-family='"DejaVu Sans", "Noto Sans CJK JP", sans-serif' fill="#0f2c44" font-weight="700" text-anchor="start" textLength="96.5" lengthAdjust="spacingAndGlyphs" >37.9℃</text>
<text x="327.5" y="1087.6" font-size="28.5" font-family='"DejaVu Sans", "Noto Sans CJK JP", sans-serif' fill="#0f2c44" font-weight="700" text-anchor="start" textLength="96.0" lengthAdjust="spacingAndGlyphs" >38.0℃</text>
<text x="196.0" y="1185.3" font-size="28.5" font-family='"DejaVu Sans", "Noto Sans CJK JP", sans-serif' fill="#0f2c44" font-weight="700" text-anchor="start" textLength="94.5" lengthAdjust="spacingAndGlyphs" >38.3℃</text>
<text x="234.0" y="1073.5" font-size="19.0" font-family='"DejaVu Sans", "Noto Sans CJK JP", sans-serif' fill="#163a78" font-weight="700" text-anchor="start" textLength="11.0" lengthAdjust="spacingAndGlyphs" >B</text>
<text x="371.5" y="1067.5" font-size="19.0" font-family='"DejaVu Sans", "Noto Sans CJK JP", sans-serif' fill="#1c48a8" font-weight="700" text-anchor="start" textLength="11.0" lengthAdjust="spacingAndGlyphs" >C</text>
<text x="239.5" y="1162.0" font-size="21.0" font-family='"DejaVu Sans", "Noto Sans CJK JP", sans-serif' fill="#0c2038" font-weight="700" text-anchor="start" textLength="10.5" lengthAdjust="spacingAndGlyphs" >A</text>
<g stroke="#3a8494" stroke-width="1.6" fill="none"><path d="M213,1063 l10,9 m0,-9 l-10,9 M357,1056 l9,8 m0,-8 l-9,8 M218,1148 l12,11 m0,-11 l-12,11"/></g>
</g>
<g clip-path="url(#cr)">
<rect x="520" y="985" width="500" height="350" fill="url(#rbg)"/>
<g filter="url(#b6)">
<rect x="520" y="980" width="500" height="78" fill="#2f68c0"/>
<rect x="615" y="980" width="350" height="74" fill="#2758b8"/>
<rect x="965" y="980" width="60" height="80" fill="#3470ca"/>
<ellipse cx="575" cy="1262" rx="95" ry="70" fill="#3a88d6" opacity="0.7"/>
<ellipse cx="905" cy="1292" rx="100" ry="52" fill="#2758ba" opacity="0.65" filter="url(#b6)"/>
<rect x="600" y="1271" width="185" height="13" fill="#3c8cd4"/>
<path d="M690,1140 L1030,1140 L1030,1176 Q950,1176 892,1182 Q862,1206 822,1208 Q782,1206 760,1182 Q730,1162 690,1152 Z" fill="#46c2ea"/>
</g>
<g filter="url(#b3)">
<path d="M548,1059 L991,1059 Q998,1110 1022,1142 L1022,1158 L760,1160 L538,1152 L538,1072 Q538,1059 548,1059 Z" fill="url(#plat)"/>
</g>
<g filter="url(#b10)"><polygon points="528,1082 600,1082 700,1150 720,1170 528,1170" fill="#3ca6ea" opacity="0.85"/></g>
<g filter="url(#b3)">
<path d="M770,1150 L1022,1150 L1022,1166 Q900,1168 860,1182 Q810,1190 775,1168 Z" fill="#5cd0d8" opacity="0.85"/>
<rect x="676" y="1103" width="18" height="25" fill="#3070c0"/>
<rect x="624" y="1007" width="14" height="14" fill="#5aa0e0"/>
</g>
</g>
<g filter="url(#b07)">
<text x="841.0" y="1059.0" font-size="29.5" font-family='"DejaVu Sans", "Noto Sans CJK JP", sans-serif' fill="#14285c" font-weight="700" text-anchor="start" textLength="97.5" lengthAdjust="spacingAndGlyphs" >42.6℃</text>
<text x="771.0" y="1135.8" font-size="30.0" font-family='"DejaVu Sans", "Noto Sans CJK JP", sans-serif' fill="#0e2c30" font-weight="700" text-anchor="start" textLength="98.5" lengthAdjust="spacingAndGlyphs" >41.2℃</text>
<text x="887.0" y="1135.8" font-size="30.0" font-family='"DejaVu Sans", "Noto Sans CJK JP", sans-serif' fill="#0e2c30" font-weight="700" text-anchor="start" textLength="97.5" lengthAdjust="spacingAndGlyphs" >41.2℃</text>
<text x="972.0" y="1071.4" font-size="25.0" font-family='"DejaVu Sans", "Noto Sans CJK JP", sans-serif' fill="#10245c" font-weight="700" text-anchor="start" textLength="15.5" lengthAdjust="spacingAndGlyphs" >A</text>
<text x="842.5" y="1112.0" font-size="23.0" font-family='"DejaVu Sans", "Noto Sans CJK JP", sans-serif' fill="#1a5c68" font-weight="700" text-anchor="start" textLength="15.0" lengthAdjust="spacingAndGlyphs" >C</text>
<text x="906.5" y="1112.0" font-size="24.0" font-family='"DejaVu Sans", "Noto Sans CJK JP", sans-serif' fill="#18545c" font-weight="700" text-anchor="start" textLength="14.5" lengthAdjust="spacingAndGlyphs" >B</text>
<g stroke="#26987c" stroke-width="2.4" fill="none"><path d="M949,1060 l16.5,16.5 m0,-16.5 l-16.5,16.5 M819.5,1097.5 l18,16.5 m0,-16.5 l-18,16.5 M881.5,1097.5 l18.5,16.5 m0,-16.5 l-18.5,16.5"/></g>
</g>
<path d="M38.2,993 V1325.6 H520.5" fill="none" stroke="#1c3c94" stroke-width="1.4" filter="url(#b05)"/>
<path d="M530.6,991 V1323.8 H1014" fill="none" stroke="#2448a0" stroke-width="1.2" filter="url(#b05)"/>
<g filter="url(#b07)">
<rect x="1024.5" y="996" width="66" height="326" fill="url(#cbar)"/>
<g stroke="#3a3a3a" fill="none"><path d="M1097.5,996 V1324" stroke-width="3.2"/>
<path d="M1097,997.0 H1116.5 M1097,1037.8 H1116.5 M1097,1078.5 H1116.5 M1097,1119.2 H1116.5 M1097,1160.0 H1116.5 M1097,1200.8 H1116.5 M1097,1241.5 H1116.5 M1097,1282.2 H1116.5 M1097,1323.0 H1116.5" stroke-width="2.4"/>
<path d="M1097,1017.4 H1107.5 M1097,1058.2 H1107.5 M1097,1098.9 H1107.5 M1097,1139.7 H1107.5 M1097,1180.4 H1107.5 M1097,1221.2 H1107.5 M1097,1261.9 H1107.5 M1097,1302.7 H1107.5" stroke-width="2.4"/>
</g>
<text x="1137.0" y="1003.2" font-size="17.0" font-family='"Liberation Sans", "Noto Sans CJK JP", sans-serif' fill="#505050" font-weight="700" text-anchor="start" textLength="38.5" lengthAdjust="spacingAndGlyphs" >80.0</text>
<text x="1137.0" y="1044.0" font-size="17.0" font-family='"Liberation Sans", "Noto Sans CJK JP", sans-serif' fill="#505050" font-weight="700" text-anchor="start" textLength="38.5" lengthAdjust="spacingAndGlyphs" >72.5</text>
<text x="1137.0" y="1084.7" font-size="17.0" font-family='"Liberation Sans", "Noto Sans CJK JP", sans-serif' fill="#505050" font-weight="700" text-anchor="start" textLength="38.5" lengthAdjust="spacingAndGlyphs" >65.0</text>
<text x="1137.0" y="1125.5" font-size="17.0" font-family='"Liberation Sans", "Noto Sans CJK JP", sans-serif' fill="#505050" font-weight="700" text-anchor="start" textLength="38.5" lengthAdjust="spacingAndGlyphs" >57.5</text>
<text x="1137.0" y="1166.2" font-size="17.0" font-family='"Liberation Sans", "Noto Sans CJK JP", sans-serif' fill="#505050" font-weight="700" text-anchor="start" textLength="38.5" lengthAdjust="spacingAndGlyphs" >50.0</text>
<text x="1137.0" y="1207.0" font-size="17.0" font-family='"Liberation Sans", "Noto Sans CJK JP", sans-serif' fill="#505050" font-weight="700" text-anchor="start" textLength="38.5" lengthAdjust="spacingAndGlyphs" >42.5</text>
<text x="1137.0" y="1247.7" font-size="17.0" font-family='"Liberation Sans", "Noto Sans CJK JP", sans-serif' fill="#505050" font-weight="700" text-anchor="start" textLength="38.5" lengthAdjust="spacingAndGlyphs" >35.0</text>
<text x="1137.0" y="1288.5" font-size="17.0" font-family='"Liberation Sans", "Noto Sans CJK JP", sans-serif' fill="#505050" font-weight="700" text-anchor="start" textLength="38.5" lengthAdjust="spacingAndGlyphs" >27.5</text>
<text x="1137.0" y="1329.2" font-size="17.0" font-family='"Liberation Sans", "Noto Sans CJK JP", sans-serif' fill="#505050" font-weight="700" text-anchor="start" textLength="38.5" lengthAdjust="spacingAndGlyphs" >20.0</text>
<text x="1125.5" y="1021.5" font-size="19.0" font-family='"DejaVu Sans", "Noto Sans CJK JP", sans-serif' fill="#555" font-weight="700" text-anchor="start" textLength="19.5" lengthAdjust="spacingAndGlyphs" >℃</text>
</g>
</svg></body></html>
